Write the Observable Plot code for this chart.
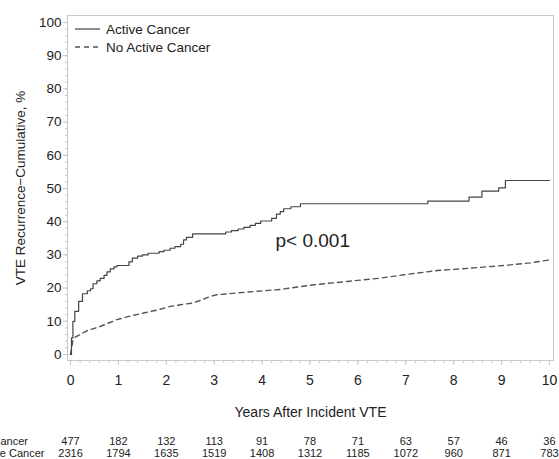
<!DOCTYPE html>
<html>
<head>
<meta charset="utf-8">
<script src="https://cdn.jsdelivr.net/npm/d3@7"></script>
<script src="https://cdn.jsdelivr.net/npm/@observablehq/plot@0.6"></script>
<style>
  html, body { margin: 0; padding: 0; background: #fff; }
  #wrap { position: relative; width: 559px; font-family: "Liberation Sans", Arial, sans-serif; }
  #legend { position: absolute; left: 74px; top: 20px; }
</style>
</head>
<body>
<div id="wrap">
  <div id="chart"></div>
  <div id="risk"></div>
  <svg id="legend" width="160" height="40"></svg>
</div>
<script>
// ---- data ----
const seriesNames = ["Active Cancer", "No Active Cancer"];
const activeYears = [0,0.02,0.05,0.09,0.17,0.25,0.35,0.42,0.47,0.55,0.62,0.70,0.76,0.83,0.91,0.97,1.22,1.29,1.40,1.50,1.62,1.85,1.95,2.08,2.18,2.30,2.36,2.42,2.55,3.24,3.36,3.50,3.62,3.75,3.86,3.97,4.20,4.30,4.38,4.45,4.60,4.80,7.46,8.32,8.59,8.94,9.08,10.0];
const activePct   = [0,5,10,13,16,18.3,19.2,19.8,21.3,22.2,22.9,23.8,24.9,25.8,26.4,26.8,27.9,29.0,29.6,30.0,30.5,31.0,31.4,32.0,32.5,33.2,34.5,35.3,36.3,36.9,37.3,37.8,38.3,38.9,39.5,40.2,41.0,42.3,43.0,43.9,44.5,45.4,46.2,47.4,49.2,50.2,52.4,52.4];
const noActiveYears = [0,0.05,0.10,0.35,0.63,0.97,1.25,1.53,1.81,2.09,2.30,2.55,2.71,2.92,3.06,3.69,4.38,5.08,5.78,6.47,6.96,7.66,8.35,9.19,9.60,10.0];
const noActivePct   = [0,4.2,5.2,7.2,8.5,10.5,11.6,12.5,13.4,14.5,15.0,15.5,16.3,17.5,18.0,18.8,19.6,21.0,22.0,23.0,24.0,25.3,26.0,27.0,27.6,28.5];
const xTicks = [0,1,2,3,4,5,6,7,8,9,10];
const yTicks = [0,10,20,30,40,50,60,70,80,90,100];
const riskYears = [0,1,2,3,4,5,6,7,8,9,10];
const riskActive = [477,182,132,113,91,78,71,63,57,46,36];
const riskNoActive = [2316,1794,1635,1519,1408,1312,1185,1072,960,871,783];
const pLabel = "p< 0.001";
const pPos = {t: 4.28, v: 34.3};

// ---- build ----
const active = activeYears.map((t, i) => ({t, v: activePct[i]}));
const noActive = noActiveYears.map((t, i) => ({t, v: noActivePct[i]}));
const risk = [
  ...riskYears.map((t, i) => ({t, group: seriesNames[0], n: String(riskActive[i])})),
  ...riskYears.map((t, i) => ({t, group: seriesNames[1], n: String(riskNoActive[i])}))
];
const xDomain = [-0.063, 10.084];
const font = '"Liberation Sans", Arial, sans-serif';
const axisGray = "#c8c8c8";
const textCol = "#222";

const chart = Plot.plot({
  width: 559, height: 425,
  marginTop: 15, marginBottom: 65, marginLeft: 67, marginRight: 6,
  style: {fontFamily: font, fontSize: "13px", color: textCol, background: "#fff"},
  x: {domain: xDomain},
  y: {domain: [-1.81, 102.1]},
  marks: [
    Plot.frame({stroke: axisGray}),
    Plot.axisY({ticks: d3.range(0, 101, 2), tickSize: 2, tickFormat: () => "", label: null, stroke: axisGray}),
    Plot.axisY({ticks: yTicks, tickSize: 4, tickPadding: 2, stroke: axisGray, fill: textCol,
      label: "VTE Recurrence\u2212Cumulative, %", labelAnchor: "center", labelOffset: 52, labelArrow: "none", fontSize: 13.5}),
    Plot.axisX({ticks: d3.range(0, 10.01, 0.2), tickSize: 3, tickFormat: () => "", label: null, stroke: axisGray}),
    Plot.axisX({ticks: xTicks, tickSize: 5, tickPadding: 10, stroke: axisGray, fill: textCol,
      label: "Years After Incident VTE", labelAnchor: "center", labelOffset: 56, labelArrow: "none", fontSize: 14}),
    Plot.line(noActive, {x: "t", y: "v", stroke: "#555", strokeWidth: 1.4, strokeDasharray: "5,4"}),
    Plot.line(active, {x: "t", y: "v", curve: "step-after", stroke: "#444", strokeWidth: 1.2}),
    Plot.text([pPos], {x: "t", y: "v", text: () => pLabel, textAnchor: "start", fontSize: 19, fill: textCol})
  ]
});
document.getElementById("chart").appendChild(chart);

const riskPlot = Plot.plot({
  width: 559, height: 34,
  marginTop: 0, marginBottom: 0, marginLeft: 67, marginRight: 6,
  style: {fontFamily: font, fontSize: "11px", color: textCol, background: "#fff"},
  x: {domain: xDomain, axis: null},
  y: {type: "point", domain: seriesNames, range: [16, 28], padding: 0, axis: null},
  marks: [
    Plot.axisY({tickSize: 0, tickPadding: 3, textAnchor: "start", dx: -105, label: null, fill: textCol}),
    Plot.text(risk, {x: "t", y: "group", text: "n", fill: textCol})
  ]
});
document.getElementById("risk").appendChild(riskPlot);

// legend
const lg = d3.select("#legend");
seriesNames.forEach((name, i) => {
  const y = 9 + i * 18;
  lg.append("line").attr("x1", 1).attr("x2", 26).attr("y1", y).attr("y2", y)
    .attr("stroke", i === 0 ? "#444" : "#555").attr("stroke-width", i === 0 ? 1.2 : 1.4)
    .attr("stroke-dasharray", i === 0 ? null : "5,4");
  lg.append("text").attr("x", 32).attr("y", y).attr("dy", "0.35em")
    .attr("font-family", font).attr("font-size", 13.5).attr("fill", textCol).text(name);
});
</script>
</body>
</html>
